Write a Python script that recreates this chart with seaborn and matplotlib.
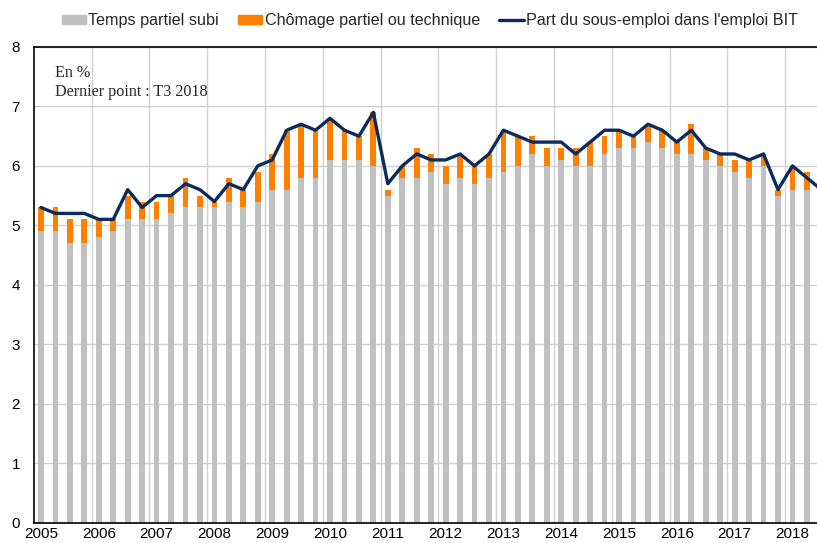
import numpy as np
import pandas as pd
import seaborn as sns
import matplotlib.pyplot as plt
from matplotlib.patches import Patch
from matplotlib.lines import Line2D

# %%
# trimestres T1 2005 -> T3 2018
years = list(range(2005, 2019))
quarters = [f"{y}T{q}" for y in years for q in range(1, 5)][:55]

# temps partiel subi (barres grises), T1 2005 -> T2 2018
temps_partiel = [4.9, 4.9, 4.7, 4.7, 4.8, 4.9, 5.1, 5.1, 5.1, 5.2, 5.3, 5.3,
                 5.3, 5.4, 5.3, 5.4, 5.6, 5.6, 5.8, 5.8, 6.1, 6.1, 6.1, 6.0,
                 5.5, 5.8, 5.8, 5.9, 5.7, 5.8, 5.7, 5.8, 5.9, 6.0, 6.2, 6.0,
                 6.1, 6.0, 6.0, 6.2, 6.3, 6.3, 6.4, 6.3, 6.2, 6.2, 6.1, 6.0,
                 5.9, 5.8, 6.0, 5.5, 5.6, 5.6]

# chomage partiel ou technique (barres orange)
chomage_partiel = [0.4, 0.4, 0.4, 0.4, 0.3, 0.2, 0.4, 0.3, 0.3, 0.3, 0.5, 0.2,
                   0.1, 0.4, 0.3, 0.5, 0.6, 1.0, 0.9, 0.8, 0.7, 0.5, 0.4, 0.9,
                   0.1, 0.2, 0.5, 0.3, 0.3, 0.4, 0.3, 0.4, 0.7, 0.5, 0.3, 0.3,
                   0.2, 0.3, 0.4, 0.3, 0.3, 0.2, 0.3, 0.3, 0.2, 0.5, 0.2, 0.2,
                   0.2, 0.3, 0.2, 0.1, 0.4, 0.3]

# part du sous-emploi dans l'emploi BIT (ligne), jusqu'a T3 2018
sous_emploi = [5.3, 5.2, 5.2, 5.2, 5.1, 5.1, 5.6, 5.3, 5.5, 5.5, 5.7, 5.6,
               5.4, 5.7, 5.6, 6.0, 6.1, 6.6, 6.7, 6.6, 6.8, 6.6, 6.5, 6.9,
               5.7, 6.0, 6.2, 6.1, 6.1, 6.2, 6.0, 6.2, 6.6, 6.5, 6.4, 6.4,
               6.4, 6.2, 6.4, 6.6, 6.6, 6.5, 6.7, 6.6, 6.4, 6.6, 6.3, 6.2,
               6.2, 6.1, 6.2, 5.6, 6.0, 5.8, 5.6]

# %%
bars = pd.DataFrame({"pos": np.arange(len(temps_partiel)),
                     "gris": temps_partiel,
                     "orange": chomage_partiel})
bars["total"] = bars["gris"] + bars["orange"]
ligne = pd.DataFrame({"pos": np.arange(len(sous_emploi)), "val": sous_emploi})

gris = "#C0C0C0"
orange = "#FF7F00"
marine = "#0B2A5E"

sns.set_style("white")
plt.rcParams['font.family'] = ['Liberation Sans', 'DejaVu Sans']

fig = plt.figure(figsize=(8.17, 5.43), dpi=100)
ax = fig.add_axes([34 / 817, 20.5 / 543, 783 / 817, 475.5 / 543])

sns.barplot(data=bars, x="pos", y="total", native_scale=True, width=0.4,
            color=orange, saturation=1, errorbar=None, linewidth=0, ax=ax)
sns.barplot(data=bars, x="pos", y="gris", native_scale=True, width=0.4,
            color=gris, saturation=1, errorbar=None, linewidth=0, ax=ax)
sns.lineplot(data=ligne, x="pos", y="val", color=marine, lw=2.4, ax=ax)

ax.set_xlim(-0.484, 53.7)
ax.set_ylim(0, 8)
ax.set_yticks(range(0, 9))
ax.set_xticks(np.arange(0, 54, 4))
ax.set_xticklabels([str(y) for y in years])
ax.set_xticks(np.arange(3.5, 54, 4), minor=True)
ax.tick_params(axis="both", which="both", length=0, labelsize=11, colors="black")
ax.tick_params(axis="y", pad=10)
ax.tick_params(axis="x", pad=3.5)
ax.set_xlabel("")
ax.set_ylabel("")

ax.set_axisbelow(True)
ax.grid(axis="y", color="#D0D0D0", lw=1)
ax.grid(axis="x", which="minor", color="#D0D0D0", lw=1)

for s in ["left", "bottom", "top"]:
    ax.spines[s].set_color("black")
    ax.spines[s].set_linewidth(1.2)
ax.spines["right"].set_visible(False)

ax.text(0.027, 0.945, "En %", transform=ax.transAxes, family="Liberation Serif",
        fontsize=11.6, va="center")
ax.text(0.027, 0.905, "Dernier point : T3 2018", transform=ax.transAxes,
        family="Liberation Serif", fontsize=11.6, va="center")

handles = [Patch(color=gris, label="Temps partiel subi"),
           Patch(color=orange, label="Chômage partiel ou technique"),
           Line2D([], [], color=marine, lw=2.4, label="Part du sous-emploi dans l'emploi BIT")]
fig.legend(handles=handles, loc="center", bbox_to_anchor=(0.526, 1 - 21 / 543),
           ncol=3, frameon=False, fontsize=11.6, handlelength=1.5, handleheight=0.5,
           handletextpad=0.15, columnspacing=1.2)

fig.savefig("out.png", dpi=100)
